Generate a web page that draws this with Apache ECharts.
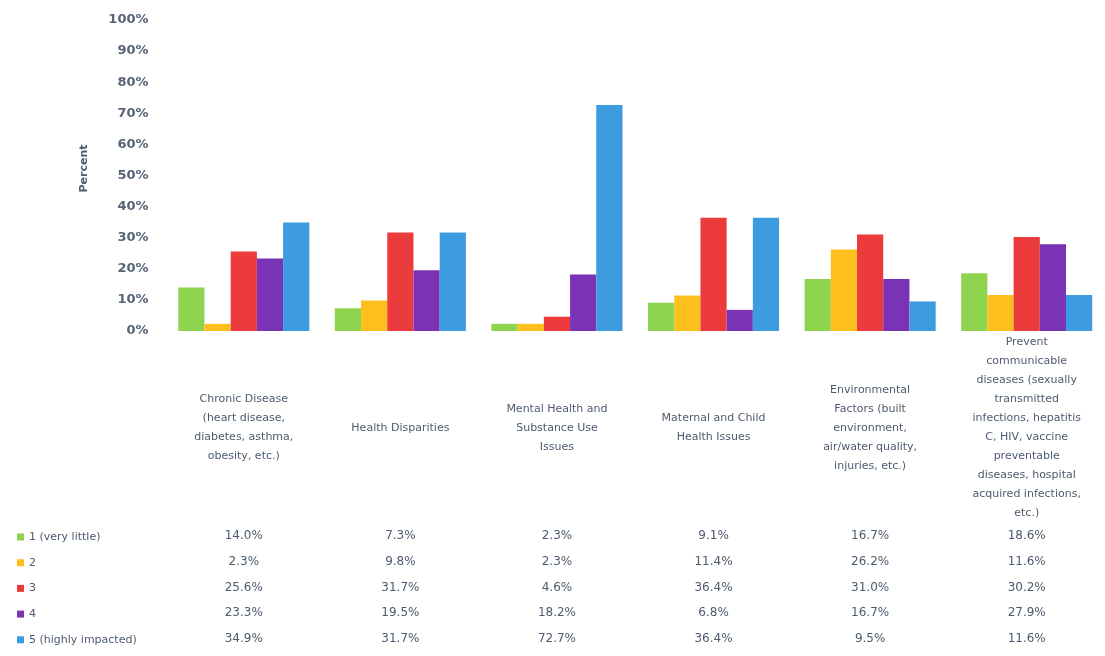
<!DOCTYPE html>
<html>
<head>
<meta charset="utf-8">
<script src="https://cdn.jsdelivr.net/npm/echarts@6/dist/echarts.min.js"></script>
<style>
html,body{margin:0;padding:0;background:#fff;}
#chart{width:1105px;height:656px;}
</style>
</head>
<body>
<div id="chart"></div>
<script>
const categories = [
  "Chronic Disease\n(heart disease,\ndiabetes, asthma,\nobesity, etc.)",
  "Health Disparities",
  "Mental Health and\nSubstance Use\nIssues",
  "Maternal and Child\nHealth Issues",
  "Environmental\nFactors (built\nenvironment,\nair/water quality,\ninjuries, etc.)",
  "Prevent\ncommunicable\ndiseases (sexually\ntransmitted\ninfections, hepatitis\nC, HIV, vaccine\npreventable\ndiseases, hospital\nacquired infections,\netc.)"
];
const seriesNames = ["1 (very little)", "2", "3", "4", "5 (highly impacted)"];
const s1 = [14.0, 7.3, 2.3, 9.1, 16.7, 18.6];
const s2 = [2.3, 9.8, 2.3, 11.4, 26.2, 11.6];
const s3 = [25.6, 31.7, 4.6, 36.4, 31.0, 30.2];
const s4 = [23.3, 19.5, 18.2, 6.8, 16.7, 27.9];
const s5 = [34.9, 31.7, 72.7, 36.4, 9.5, 11.6];
const colors = ["#8fd44f", "#fdbf1e", "#ec3b3d", "#7b33b5", "#3d9be0"];
const yTicks = { min: 0, max: 100, interval: 10 };

const seriesData = [s1, s2, s3, s4, s5];
const textColor = "#4d5b6e";
const font = "DejaVu Sans";
const rowY0 = 536, rowStep = 25.7, axisY = 331;

const xAxes = [{
  type: "category",
  data: categories,
  gridIndex: 0,
  position: "bottom",
  axisLine: { show: false },
  axisTick: { show: false },
  axisLabel: {
    interval: 0, margin: 97, verticalAlign: "middle", align: "center",
    color: textColor, fontFamily: font, fontSize: 11, lineHeight: 19
  }
}];
seriesData.forEach((arr, i) => {
  xAxes.push({
    type: "category",
    data: arr.map(v => v.toFixed(1) + "%"),
    gridIndex: 0,
    position: "bottom",
    offset: rowY0 + i * rowStep - axisY,
    axisLine: { show: false },
    axisTick: { show: false },
    axisLabel: {
      interval: 0, margin: 0, verticalAlign: "middle", align: "center",
      color: textColor, fontFamily: font, fontSize: 12
    }
  });
});

const chart = echarts.init(document.getElementById("chart"), null, { renderer: "canvas" });
chart.setOption({
  animation: false,
  color: colors,
  textStyle: { fontFamily: font },
  grid: { left: 165.5, right: -7, top: 20, bottom: 325, containLabel: false },
  legend: {
    orient: "vertical",
    left: 12,
    top: rowY0 - 11,
    itemWidth: 7,
    itemHeight: 7,
    itemGap: 11.7,
    icon: "rect",
    selectedMode: false,
    textStyle: { color: textColor, fontFamily: font, fontSize: 11, lineHeight: 14 },
    data: seriesNames
  },
  xAxis: xAxes,
  yAxis: {
    type: "value",
    min: yTicks.min, max: yTicks.max, interval: yTicks.interval,
    name: "Percent",
    nameLocation: "middle",
    nameGap: 76,
    nameTextStyle: { color: textColor, fontFamily: font, fontSize: 11, fontWeight: "bold", padding: [0, 0, 0, 14] },
    splitLine: { show: false },
    axisLine: { show: false },
    axisTick: { show: false },
    axisLabel: { formatter: "{value}%", margin: 17, color: "#566478", fontFamily: font, fontSize: 13, fontWeight: "bold" }
  },
  series: seriesData.map((arr, i) => ({
    name: seriesNames[i],
    type: "bar",
    xAxisIndex: 0,
    data: arr,
    barGap: "0%",
    barCategoryGap: "16.3%",
    itemStyle: { color: colors[i] }
  }))
});
</script>
</body>
</html>
